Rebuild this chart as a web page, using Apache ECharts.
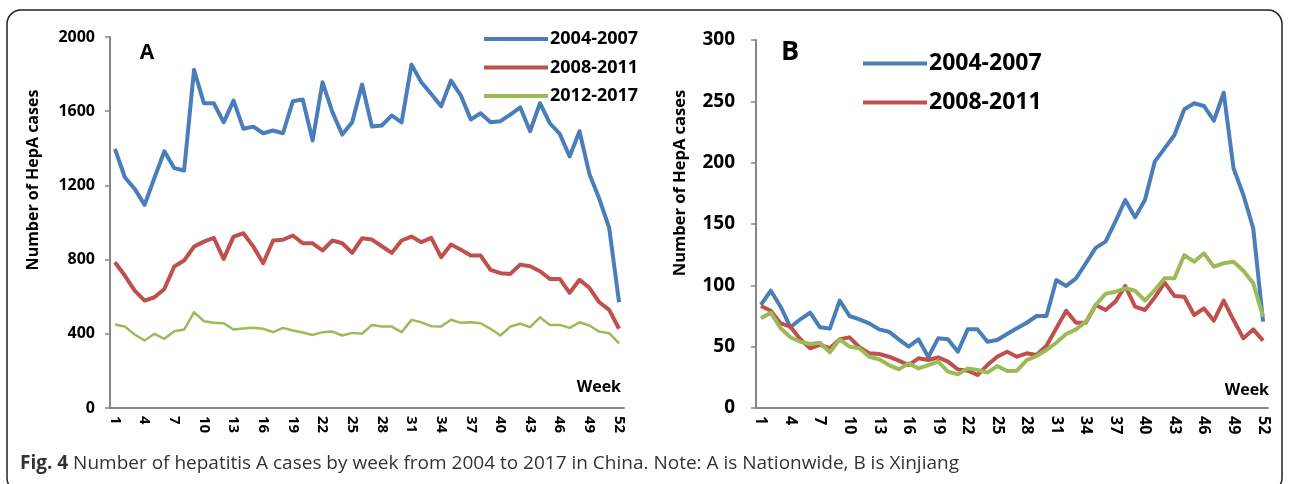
<!DOCTYPE html>
<html>
<head>
<meta charset="utf-8">
<script src="https://cdn.jsdelivr.net/npm/echarts@6/dist/echarts.min.js"></script>
<style>
  html, body { margin: 0; padding: 0; background: #fff; }
  #main { width: 1289px; height: 484px; }
</style>
</head>
<body>
<div id="main"></div>
<script>
var weeks = [];
for (var i = 1; i <= 52; i++) weeks.push(String(i));

// Panel A - nationwide
var nat0407 = [1397, 1244, 1181, 1095, 1241, 1384, 1293, 1280, 1823, 1643, 1643, 1540, 1657, 1505, 1517, 1481, 1496, 1481, 1654, 1663,
    1442, 1756, 1595, 1474, 1540, 1744, 1517, 1523, 1577, 1540, 1851, 1756, 1693, 1627, 1765, 1684, 1555, 1589, 1540, 1546,
    1582, 1621, 1492, 1643, 1535, 1478, 1356, 1492, 1262, 1128, 971, 570];
var nat0811 = [786, 714, 633, 579, 597, 642, 763, 795, 870, 897, 917, 804, 924, 942, 870, 780, 903, 907, 930, 888,
    888, 849, 903, 888, 836, 915, 908, 872, 836, 903, 924, 894, 917, 813, 881, 853, 822, 822, 745, 727,
    723, 773, 764, 737, 696, 696, 621, 691, 648, 570, 529, 427];
var nat1217 = [450, 439, 396, 364, 400, 373, 414, 423, 516, 468, 459, 457, 423, 428, 432, 427, 409, 432, 418, 407,
    394, 409, 412, 391, 405, 400, 448, 439, 439, 409, 475, 462, 441, 439, 476, 459, 462, 457, 427, 391,
    439, 454, 436, 489, 448, 448, 432, 462, 445, 412, 403, 349];

// Panel B - Xinjiang
var xj0407 = [84, 95.6, 82.6, 65.8, 72.3, 77.7, 65.8, 64.7, 87.5, 75, 72.3, 69, 64.1, 62.2, 56, 50, 56, 41.5, 56.8, 56,
    45.9, 64.1, 64.1, 54, 55.4, 60.3, 65, 69.5, 75, 75, 104.3, 99.5, 105.7, 118, 130.5, 135.6, 151.9, 169.6, 155.4, 169.6,
    200.8, 211.7, 222.5, 243.5, 248.4, 246.2, 234.2, 257, 195.4, 173.6, 146.5, 70.4];
var xj0811 = [83.2, 79.3, 69, 66.3, 56, 48.7, 51.4, 48.7, 56, 57.6, 49.5, 44.6, 44, 41.8, 38.6, 35, 40.5, 39.1, 41.3, 37.8,
    31.5, 30.4, 26.9, 35, 41.8, 45.9, 41.8, 44.6, 43.2, 50.8, 65, 79.3, 69.5, 69.5, 84, 79.9, 86.7, 99.5, 82.6, 79.9,
    90.2, 102.2, 91.3, 90.7, 75.8, 81.2, 71.2, 87.5, 71.7, 56.8, 64.1, 54.9];
var xj1217 = [73.1, 77.7, 65, 57.6, 54, 52.2, 53.2, 45.4, 56, 50, 48.7, 41.8, 39.7, 35, 31.5, 36.4, 32.3, 35, 37.8, 29.6,
    27.4, 32.3, 31, 28.8, 34.2, 30.2, 30.4, 39.1, 42.4, 47.3, 53.2, 60.3, 64.1, 70.4, 84, 93, 94.8, 97.6, 95.6, 87.5,
    96.2, 105.7, 105.7, 124.7, 119.3, 126.1, 115.2, 118, 119.3, 111.9, 101.7, 74.4];

var blue = '#4a7ebb', red = '#c0504d', green = '#9bbb59', axisGrey = '#868686';
var font = 'Open Sans';

function xAxisOf(idx, size) {
    return {
        type: 'category', gridIndex: idx, data: weeks, boundaryGap: true,
        axisLine: { lineStyle: { color: axisGrey, width: 2 } },
        axisTick: { interval: 0, length: 5, lineStyle: { color: axisGrey, width: 1.5 } },
        axisLabel: { interval: 2, rotate: -90, margin: 8, color: '#000', fontWeight: 'bold', fontSize: size, fontFamily: font }
    };
}
function yAxisOf(idx, max, step, size, margin) {
    return {
        type: 'value', gridIndex: idx, min: 0, max: max, interval: step,
        splitLine: { show: false },
        axisLine: { show: true, lineStyle: { color: axisGrey, width: 2 } },
        axisTick: { show: true, length: 5, lineStyle: { color: axisGrey, width: 1.5 } },
        axisLabel: { margin: margin, color: '#000', fontWeight: 'bold', fontSize: size, fontFamily: font,
            formatter: function (v) { return String(v); } }
    };
}
function lineOf(name, data, color, width, idx) {
    return {
        name: name, type: 'line', xAxisIndex: idx, yAxisIndex: idx, data: data,
        symbol: 'none', smooth: false, color: color,
        lineStyle: { color: color, width: width, join: 'round' }
    };
}

var myChart = echarts.init(document.getElementById('main'));
var option = {
    animation: false,
    grid: [
        { left: 110, top: 37, width: 514, height: 371 },
        { left: 756, top: 40, width: 512, height: 368 }
    ],
    xAxis: [xAxisOf(0, 15), xAxisOf(1, 16)],
    yAxis: [yAxisOf(0, 2000, 400, 16, 15), yAxisOf(1, 300, 50, 19, 21)],
    legend: [
        {
            data: ['2004-2007', '2008-2011', '2012-2017'], orient: 'vertical', left: 479, top: 23,
            icon: 'rect', itemWidth: 64, itemHeight: 4, itemGap: 6.5, selectedMode: false,
            textStyle: { fontSize: 18, fontWeight: 'bold', fontFamily: font, color: '#000', lineHeight: 22, padding: [0, 0, 0, -3] }
        },
        {
            data: ['2004-2007', '2008-2011'], orient: 'vertical', left: 858, top: 44,
            icon: 'rect', itemWidth: 64, itemHeight: 4, itemGap: 10, selectedMode: false,
            textStyle: { fontSize: 23, fontWeight: 'bold', fontFamily: font, color: '#000', lineHeight: 29, padding: [0, 0, 0, -3] }
        }
    ],
    series: [
        lineOf('2004-2007', nat0407, blue, 4, 0),
        lineOf('2008-2011', nat0811, red, 4, 0),
        lineOf('2012-2017', nat1217, green, 2.5, 0),
        lineOf('2004-2007', xj0407, blue, 4, 1),
        lineOf('2008-2011', xj0811, red, 4, 1),
        lineOf('2012-2017', xj1217, green, 4, 1)
    ],
    graphic: [
        { type: 'rect', shape: { x: 7, y: 10, width: 1275, height: 482, r: 14 }, silent: true,
          style: { fill: 'none', stroke: '#222', lineWidth: 1.5 } },
        { type: 'text', x: 147, y: 53, style: { text: 'A', font: 'bold 21px "Open Sans"', fill: '#000', textAlign: 'center', textVerticalAlign: 'middle' } },
        { type: 'text', x: 790, y: 52, style: { text: 'B', font: 'bold 27px "Open Sans"', fill: '#000', textAlign: 'center', textVerticalAlign: 'middle' } },
        { type: 'text', x: 33, y: 180, rotation: Math.PI / 2, style: { text: 'Number of HepA cases', font: 'bold 16px "Open Sans"', fill: '#000', textAlign: 'center', textVerticalAlign: 'middle' } },
        { type: 'text', x: 680, y: 183, rotation: Math.PI / 2, style: { text: 'Number of HepA cases', font: 'bold 16.5px "Open Sans"', fill: '#000', textAlign: 'center', textVerticalAlign: 'middle' } },
        { type: 'text', x: 621, y: 387, style: { text: 'Week', font: 'bold 16px "Open Sans"', fill: '#000', textAlign: 'right', textVerticalAlign: 'middle' } },
        { type: 'text', x: 1269, y: 390, style: { text: 'Week', font: 'bold 16px "Open Sans"', fill: '#000', textAlign: 'right', textVerticalAlign: 'middle' } },
        { type: 'text', x: 20, y: 464, style: {
            text: '{b|Fig. 4} Number of hepatitis A cases by week from 2004 to 2017 in China. Note: A is Nationwide, B is Xinjiang',
            font: '19px "Open Sans"', fill: '#333', textVerticalAlign: 'middle',
            rich: { b: { font: 'bold 19px "Open Sans"', fill: '#333' } }
        } }
    ]
};
myChart.setOption(option);
</script>
</body>
</html>
